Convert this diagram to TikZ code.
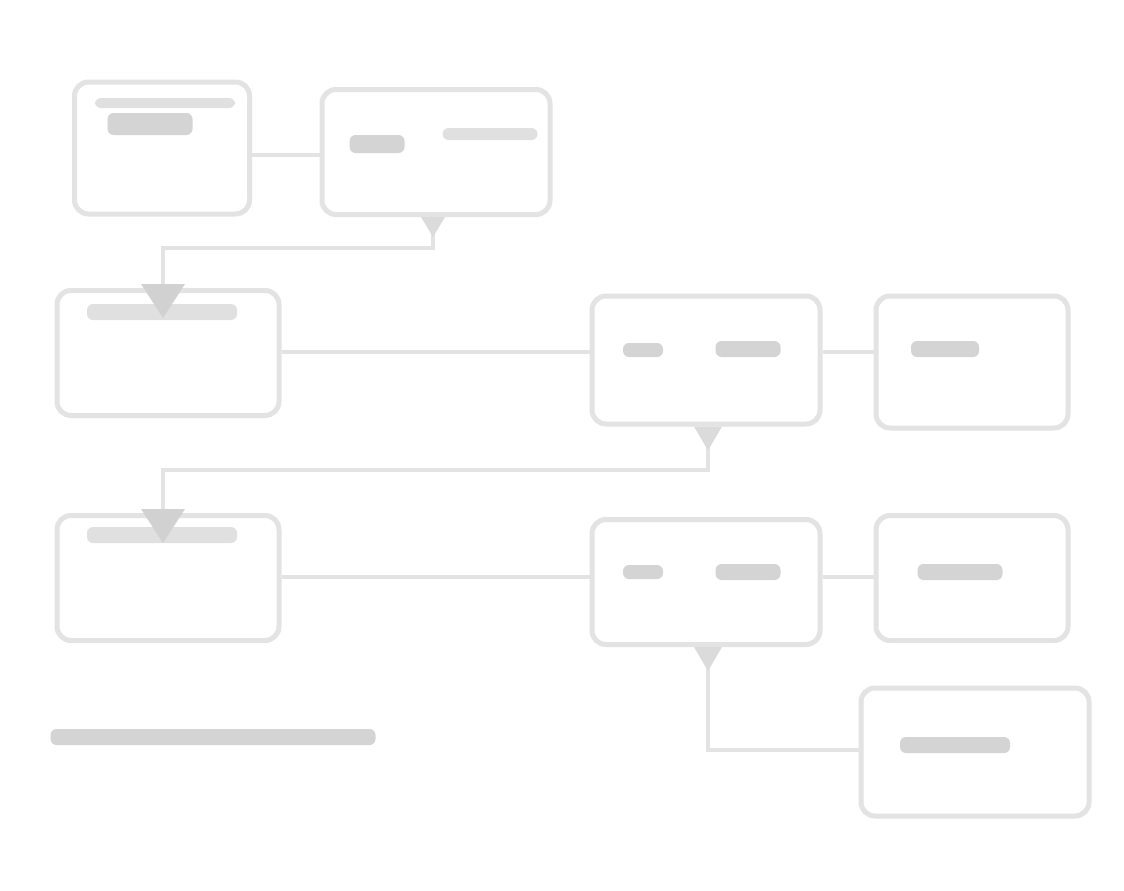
\documentclass[tikz,border=0pt]{standalone}
\usetikzlibrary{arrows.meta}
\begin{document}
\begin{tikzpicture}[x=1pt,y=-1pt,
  boxstyle/.style={draw=black!11,line width=5pt,rounded corners=14pt},
  wire/.style={draw=black!11,line width=4pt},
  blob/.style={fill=black!17,rounded corners=6pt,inner sep=0pt,draw=none},
  lightblob/.style={fill=black!12,rounded corners=6pt,inner sep=0pt,draw=none}]
\useasboundingbox (0,0) rectangle (1124,891);
\fill[white] (0,0) rectangle (1124,891);
% boxes
\node[boxstyle,minimum width=175pt,minimum height=132pt] (b1) at (162,148) {};
\node[boxstyle,minimum width=228pt,minimum height=125pt] (b2) at (436,152) {};
\node[boxstyle,minimum width=222pt,minimum height=125pt] (b3) at (168,353) {};
\node[boxstyle,minimum width=228pt,minimum height=128pt] (b4) at (706,360) {};
\node[boxstyle,minimum width=192pt,minimum height=132pt] (b5) at (972,362) {};
\node[boxstyle,minimum width=222pt,minimum height=125pt] (b6) at (168,578) {};
\node[boxstyle,minimum width=228pt,minimum height=125pt] (b7) at (706,582) {};
\node[boxstyle,minimum width=192pt,minimum height=125pt] (b8) at (972,578) {};
\node[boxstyle,minimum width=228pt,minimum height=128pt] (b9) at (975,752) {};
% connectors
\coordinate (c1) at (433,248);
\coordinate (c2) at (163,248);
\coordinate (c3) at (708,470);
\coordinate (c4) at (163,470);
\coordinate (c5) at (708,750);
\draw[wire] (b1.east |- 0,155) -- (b2.west |- 0,155);
\draw[wire] (b2.south -| c1) -- (c1) -- (c2) -- (b3.north -| c2);
\draw[wire] (b3.east |- 0,352) -- (b4.west |- 0,352);
\draw[wire] (b4.east |- 0,352) -- (b5.west |- 0,352);
\draw[wire] (b4.south -| c3) -- (c3) -- (c4) -- (b6.north -| c4);
\draw[wire] (b6.east |- 0,577) -- (b7.west |- 0,577);
\draw[wire] (b7.east |- 0,577) -- (b8.west |- 0,577);
\draw[wire] (b7.south -| c5) -- (c5) -- (b9.west |- c5);
% text blobs
\node[lightblob,minimum width=150pt,minimum height=16pt] (t3) at (162,312) {};
\node[lightblob,minimum width=150pt,minimum height=16pt] (t6) at (162,535) {};
\node[blob,minimum width=85pt,minimum height=22pt] (t1) at (150,124) {};
\node[lightblob,minimum width=140pt,minimum height=10pt] (t1b) at (165,103) {};
\node[blob,minimum width=55pt,minimum height=18pt] (t2) at (377,144) {};
\node[lightblob,minimum width=95pt,minimum height=12pt] (t2b) at (490,134) {};
\node[blob,minimum width=40pt,minimum height=14pt] (t4a) at (643,350) {};
\node[blob,minimum width=65pt,minimum height=16pt] (t4b) at (748,349) {};
\node[blob,minimum width=68pt,minimum height=16pt] (t5) at (945,349) {};
\node[blob,minimum width=40pt,minimum height=14pt] (t7a) at (643,572) {};
\node[blob,minimum width=65pt,minimum height=16pt] (t7b) at (748,572) {};
\node[blob,minimum width=85pt,minimum height=16pt] (t8) at (960,572) {};
\node[blob,minimum width=110pt,minimum height=16pt] (t9) at (955,745) {};
\node[blob,minimum width=325pt,minimum height=16pt] (foot) at (213,737) {};
% arrow heads (blurred)
\fill[black!18] (b3.north -| c2) ++(-22,-4) -- ++(44,0) -- ++(-22,34) -- cycle;
\fill[black!18] (b6.north -| c4) ++(-22,-4) -- ++(44,0) -- ++(-22,34) -- cycle;
\fill[black!14] (b2.south -| c1) ++(-12,0) -- ++(24,0) -- ++(-12,20) -- cycle;
\fill[black!14] (b4.south -| c3) ++(-14,0) -- ++(28,0) -- ++(-14,24) -- cycle;
\fill[black!14] (b7.south -| c5) ++(-14,0) -- ++(28,0) -- ++(-14,24) -- cycle;
\end{tikzpicture}
\end{document}
